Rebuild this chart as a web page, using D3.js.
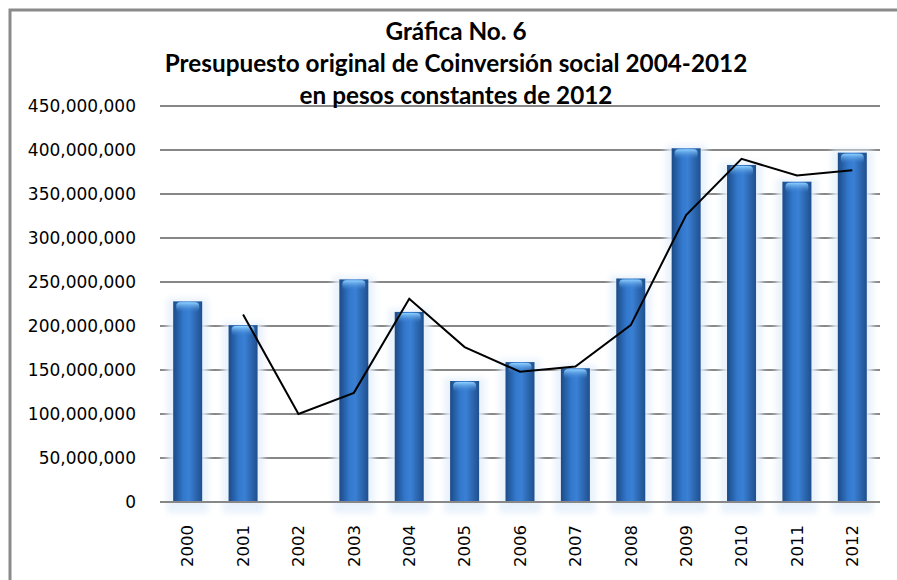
<!DOCTYPE html>
<html>
<head>
<meta charset="utf-8">
<script src="https://cdn.jsdelivr.net/npm/d3@7"></script>
<style>
html,body{margin:0;padding:0;background:#fff;}
svg{display:block;}
</style>
</head>
<body>
<svg id="chart" width="897" height="580"></svg>
<script>
const years = ["2000","2001","2002","2003","2004","2005","2006","2007","2008","2009","2010","2011","2012"];
const presupuesto = [228e6, 201e6, 0, 253e6, 216e6, 137.5e6, 159e6, 152e6, 254e6, 402e6, 383e6, 364e6, 397e6];
const tendencia = [null, 213e6, 100e6, 124e6, 231e6, 176e6, 148e6, 154e6, 201e6, 326e6, 390e6, 371e6, 377e6];
const yTicks = [0, 50e6, 100e6, 150e6, 200e6, 250e6, 300e6, 350e6, 400e6, 450e6];
const titleLines = ["Gráfica No. 6", "Presupuesto original de Coinversión social 2004-2012", "en pesos constantes de 2012"];

const svg = d3.select("#chart");
const pLeft = 160, pRight = 880, pTop = 106, pBottom = 502;

const x = d3.scaleBand().domain(years).range([pLeft, pRight]).padding(0);
const y = d3.scaleLinear().domain([0, 450e6]).range([pBottom, pTop]);

const defs = svg.append("defs");
const g1 = defs.append("linearGradient").attr("id","barGrad").attr("x1","0").attr("x2","1").attr("y1","0").attr("y2","0");
g1.append("stop").attr("offset","0%").attr("stop-color","#1c4a86");
g1.append("stop").attr("offset","35%").attr("stop-color","#3278cc");
g1.append("stop").attr("offset","55%").attr("stop-color","#3a80d4");
g1.append("stop").attr("offset","100%").attr("stop-color","#1f4f8e");
const g2 = defs.append("linearGradient").attr("id","capGrad").attr("x1","0").attr("x2","0").attr("y1","0").attr("y2","1");
g2.append("stop").attr("offset","0%").attr("stop-color","#8fd0ff");
g2.append("stop").attr("offset","100%").attr("stop-color","#3a80d4").attr("stop-opacity",0);
const blur = defs.append("filter").attr("id","glow").attr("x","-50%").attr("y","-20%").attr("width","200%").attr("height","140%");
blur.append("feGaussianBlur").attr("stdDeviation", 3);

// frame
svg.append("rect").attr("x",10).attr("y",10).attr("width",920).attr("height",620)
  .attr("fill","none").attr("stroke","#8a8a8a").attr("stroke-width",3);

// gridlines
svg.append("g").selectAll("line").data(yTicks).join("line")
  .attr("x1", pLeft).attr("x2", pRight)
  .attr("y1", d => y(d)).attr("y2", d => y(d))
  .attr("stroke", "#878787").attr("stroke-width", 2);

// y labels
const yAxis = d3.axisLeft(y).tickValues(yTicks).tickFormat(d3.format(",")).tickSize(0).tickPadding(0);
const ya = svg.append("g").attr("transform", `translate(136,0)`).call(yAxis);
ya.select(".domain").remove();
ya.selectAll("text").attr("font-family","DejaVu Sans").attr("font-size","17px").attr("fill","#000");

// bars
const bw = 29;
const bars = svg.append("g").selectAll("g").data(years.map((yr,i)=>({yr, v:presupuesto[i]})).filter(d=>d.v>0)).join("g");
bars.append("rect")
  .attr("x", d => x(d.yr) + x.bandwidth()/2 - bw/2 - 6)
  .attr("y", d => y(d.v) - 3)
  .attr("width", bw + 12)
  .attr("height", d => pBottom - y(d.v) + 14)
  .attr("fill", "#e6f0fb").attr("opacity", 0.9).attr("filter","url(#glow)");
bars.append("rect")
  .attr("x", d => x(d.yr) + x.bandwidth()/2 - bw/2)
  .attr("y", d => y(d.v))
  .attr("width", bw)
  .attr("height", d => pBottom - y(d.v))
  .attr("fill", "url(#barGrad)");
bars.append("rect")
  .attr("x", d => x(d.yr) + x.bandwidth()/2 - bw/2 + 3)
  .attr("y", d => y(d.v) + 1)
  .attr("width", bw - 6)
  .attr("height", 10)
  .attr("rx", 4)
  .attr("fill", "url(#capGrad)");

// baseline
svg.append("line").attr("x1", pLeft).attr("x2", pRight).attr("y1", y(0)).attr("y2", y(0))
  .attr("stroke", "#878787").attr("stroke-width", 2);

// line
const line = d3.line().defined(d => d.v != null)
  .x(d => x(d.yr) + x.bandwidth()/2).y(d => y(d.v));
svg.append("path").datum(years.map((yr,i)=>({yr, v:tendencia[i]})))
  .attr("d", line).attr("fill","none").attr("stroke","#000").attr("stroke-width",2);

// x labels
const xAxis = d3.axisBottom(x).tickSize(0).tickPadding(0);
const xa = svg.append("g").attr("transform", `translate(0,${pBottom})`).call(xAxis);
xa.select(".domain").remove();
xa.selectAll("text")
  .attr("font-family","DejaVu Sans").attr("font-size","16.5px").attr("fill","#000")
  .attr("text-anchor","end").attr("dy","0.35em").attr("dx", 0)
  .attr("transform","translate(0,23) rotate(-90)").attr("y",0).attr("x",0);

// title
const baselines = [40, 72, 104];
titleLines.forEach((t,i) => {
  svg.append("text").attr("x", 456).attr("y", baselines[i])
    .attr("text-anchor","middle").attr("font-family","Lato").attr("font-weight","bold")
    .attr("font-size","24.3px").attr("fill","#000").text(t);
});
</script>
</body>
</html>
